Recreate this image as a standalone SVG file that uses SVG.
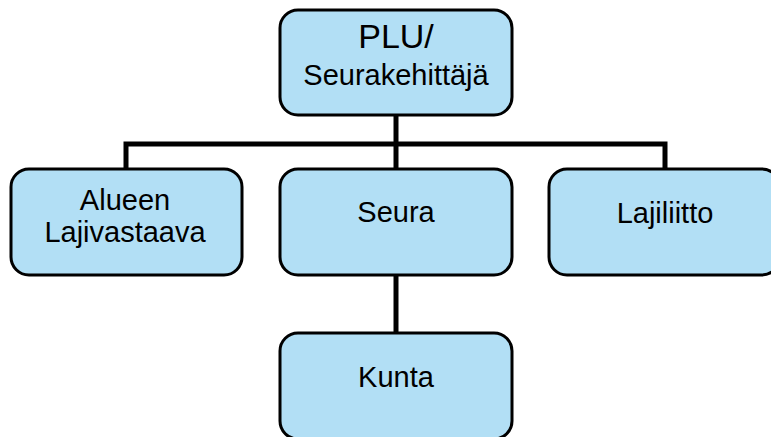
<svg xmlns="http://www.w3.org/2000/svg" width="771" height="437" viewBox="0 0 771 437">
<style>
.box{fill:#b2dff5;stroke:#000;stroke-width:3}
.conn{fill:none;stroke:#000;stroke-width:5}
text{font-family:"Liberation Sans",Arial,sans-serif;fill:#000;text-anchor:middle}
.lbl{font-size:29px}
</style>
<rect width="771" height="437" fill="#fff"/>
<g id="connectors">
<path class="conn" d="M396 115 V169"/>
<path class="conn" d="M126 169 V144 H665 V169"/>
<path class="conn" d="M396 275 V333"/>
</g>
<g id="plu">
<rect class="box" x="280" y="10" width="232" height="105" rx="18"/>
<text x="396" y="48" style="font-size:34px">PLU/</text>
<text class="lbl" x="396" y="85">Seurakehittäjä</text>
</g>
<g id="alueen">
<rect class="box" x="11" y="169" width="231" height="106" rx="18"/>
<text class="lbl" x="125" y="210">Alueen</text>
<text class="lbl" x="125" y="242">Lajivastaava</text>
</g>
<g id="seura">
<rect class="box" x="280" y="169" width="232" height="106" rx="18"/>
<text class="lbl" x="396" y="222">Seura</text>
</g>
<g id="lajiliitto">
<rect class="box" x="549" y="169" width="231" height="106" rx="18"/>
<text class="lbl" x="665" y="223">Lajiliitto</text>
</g>
<g id="kunta">
<rect class="box" x="280" y="333" width="232" height="106" rx="18"/>
<text class="lbl" x="396" y="387">Kunta</text>
</g>
</svg>
